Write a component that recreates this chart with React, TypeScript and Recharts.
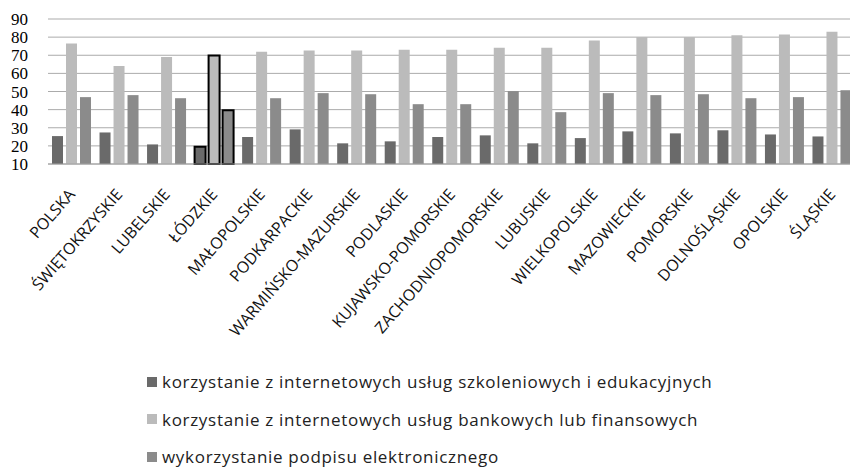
import React from 'react';
import { BarChart, Bar, XAxis, YAxis, CartesianGrid, Legend, Cell } from 'recharts';

// Województwa (regions), in the order they are plotted
const categories = [
  'POLSKA',
  'ŚWIĘTOKRZYSKIE',
  'LUBELSKIE',
  'ŁÓDZKIE',
  'MAŁOPOLSKIE',
  'PODKARPACKIE',
  'WARMIŃSKO-MAZURSKIE',
  'PODLASKIE',
  'KUJAWSKO-POMORSKIE',
  'ZACHODNIOPOMORSKIE',
  'LUBUSKIE',
  'WIELKOPOLSKIE',
  'MAZOWIECKIE',
  'POMORSKIE',
  'DOLNOŚLĄSKIE',
  'OPOLSKIE',
  'ŚLĄSKIE',
];

const seriesNames = [
  'korzystanie z internetowych usług szkoleniowych i edukacyjnych',
  'korzystanie z internetowych usług bankowych lub finansowych',
  'wykorzystanie podpisu elektronicznego',
];

const edukacja = [25.4, 27.4, 20.8, 19.5, 24.9, 29.1, 21.4, 22.5, 24.9, 25.8, 21.4, 24.3, 28.0, 26.9, 28.6, 26.3, 25.2];
const bankowosc = [76.5, 64.1, 69.1, 69.8, 72.0, 72.6, 72.6, 73.1, 73.1, 74.2, 74.2, 78.1, 80.1, 80.1, 81.0, 81.4, 83.0];
const podpis = [46.9, 48.0, 46.3, 39.7, 46.3, 49.1, 48.5, 43.0, 43.0, 50.2, 38.6, 49.1, 48.0, 48.5, 46.3, 46.9, 50.7];

const yTicks = [10, 20, 30, 40, 50, 60, 70, 80, 90];

// Region shown with outlined bars
const highlighted = 'ŁÓDZKIE';

const colors = ['#6a6a6a', '#bbbbbb', '#8b8b8b'];

const data = categories.map((name, i) => ({
  name,
  edukacja: edukacja[i],
  bankowosc: bankowosc[i],
  podpis: podpis[i],
}));

const seriesKeys = ['edukacja', 'bankowosc', 'podpis'];

const XTick = (props: any) => {
  const { x, y, payload } = props;
  return (
    <g transform={`translate(${x + 4},${y + 31}) rotate(-49)`}>
      <text
        x={0}
        y={0}
        textAnchor="end"
        fontFamily="'Open Sans', sans-serif"
        fontSize={16}
        fill="#111"
      >
        {payload.value}
      </text>
    </g>
  );
};

// Legend drawn in series order, one entry per row
const LegendContent = () => (
  <div style={{ display: 'flex', flexDirection: 'column' }}>
    {seriesNames.map((label, i) => (
      <div
        key={label}
        style={{
          display: 'flex',
          alignItems: 'center',
          height: 37.5,
          fontFamily: "'Open Sans', sans-serif",
          fontSize: 17,
          letterSpacing: 0.7,
          color: '#222',
          whiteSpace: 'nowrap',
        }}
      >
        <span
          style={{
            display: 'inline-block',
            width: 10,
            height: 10,
            background: colors[i],
            marginRight: 5,
          }}
        />
        {label}
      </div>
    ))}
  </div>
);

export default function App() {
  return (
    <div
      style={{
        position: 'absolute',
        left: 0,
        top: 0,
        width: 850,
        height: 467,
        overflow: 'hidden',
        background: '#fff',
      }}
    >
      <BarChart
        width={870}
        height={467}
        data={data}
        margin={{ top: 19, right: 14, left: 0, bottom: 0 }}
        barSize={11}
        barGap={3}
      >
        <CartesianGrid vertical={false} stroke="#ababab" strokeWidth={1} />
        <XAxis
          dataKey="name"
          height={303}
          interval={0}
          tickLine={false}
          tickSize={0}
          tickMargin={0}
          axisLine={{ stroke: '#a0a0a0' }}
          tick={<XTick />}
        />
        <YAxis
          type="number"
          domain={[10, 90]}
          ticks={yTicks}
          interval={0}
          width={48}
          axisLine={false}
          tickLine={false}
          tickSize={0}
          tickMargin={20}
          tick={{ fontFamily: "'Liberation Serif', serif", fontSize: 17, fill: '#000' }}
        />
        <Legend
          layout="vertical"
          align="center"
          verticalAlign="middle"
          content={<LegendContent />}
          wrapperStyle={{ top: 363, left: 147, width: 'auto' }}
        />
        {seriesKeys.map((key, s) => (
          <Bar key={key} dataKey={key} name={seriesNames[s]} fill={colors[s]} isAnimationActive={false}>
            {data.map((d) => (
              <Cell
                key={d.name}
                fill={colors[s]}
                stroke={d.name === highlighted ? '#000' : 'none'}
                strokeWidth={d.name === highlighted ? 2 : 0}
              />
            ))}
          </Bar>
        ))}
      </BarChart>
    </div>
  );
}
